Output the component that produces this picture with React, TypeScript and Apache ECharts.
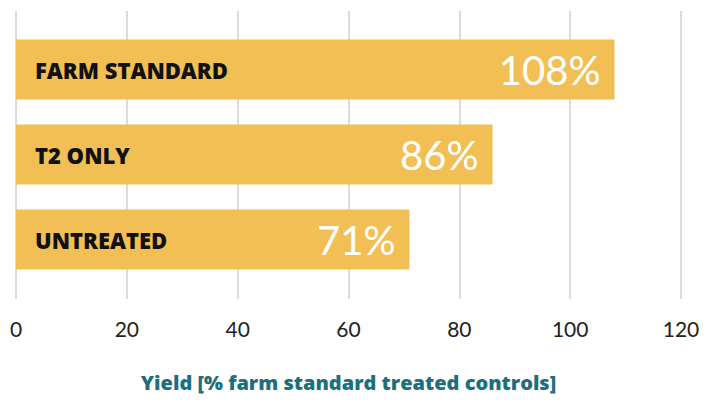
import React, { useEffect, useRef } from "react";
import * as echarts from "echarts";

const categories = ["FARM STANDARD", "T2 ONLY", "UNTREATED"];
const yieldValues = [108, 86, 71];
const valueLabels = ["108%", "86%", "71%"];
const xTicks = { min: 0, max: 120, interval: 20 };
const axisTitle = "Yield [% farm standard treated controls]";

const FONT = "Lato, 'Open Sans', sans-serif";
const BOLD_FONT = "'Open Sans', 'Noto Sans', sans-serif";
const GRID_COLOR = "#cfcfcf";

export default function App() {
  const ref = useRef<HTMLDivElement>(null);
  useEffect(() => {
    if (!ref.current) return;
    const chart = echarts.init(ref.current, undefined, { renderer: "svg" });
    chart.setOption({
      animation: false,
      backgroundColor: "#ffffff",
      grid: { left: 16, right: 34, top: 27, height: 255, containLabel: false },
      xAxis: [
        {
          type: "value",
          position: "bottom",
          min: xTicks.min,
          max: xTicks.max,
          interval: xTicks.interval,
          axisLine: { show: false },
          axisTick: { show: true, length: 17, lineStyle: { color: GRID_COLOR, width: 1.5 } },
          splitLine: { show: true, lineStyle: { color: GRID_COLOR, width: 1.5 } },
          axisLabel: { margin: 36, color: "#222222", fontSize: 21, fontFamily: FONT },
          name: axisTitle,
          nameLocation: "middle",
          nameGap: 90,
          nameTextStyle: { color: "#1d6f7e", fontSize: 20, fontWeight: 800, fontFamily: BOLD_FONT },
        },
        {
          type: "value",
          position: "top",
          min: xTicks.min,
          max: xTicks.max,
          interval: xTicks.interval,
          axisLine: { show: false },
          axisTick: { show: true, length: 16, lineStyle: { color: GRID_COLOR, width: 1.5 } },
          splitLine: { show: false },
          axisLabel: { show: false },
        },
      ],
      yAxis: {
        type: "category",
        data: categories,
        inverse: true,
        z: 10,
        axisLine: { show: false },
        axisTick: { show: false },
        axisLabel: {
          inside: true,
          margin: 19,
          color: "#111111",
          fontSize: 22,
          fontWeight: 800,
          fontFamily: BOLD_FONT,
        },
      },
      series: [
        {
          type: "bar",
          data: yieldValues,
          barWidth: 60,
          itemStyle: { color: "#f2bf55" },
          label: {
            show: true,
            position: "insideRight",
            distance: 14,
            color: "#ffffff",
            fontSize: 40,
            fontFamily: FONT,
            formatter: (p: any) => valueLabels[p.dataIndex],
          },
        },
      ],
    });
    return () => chart.dispose();
  }, []);
  return (
    <div
      ref={ref}
      style={{ position: "fixed", left: 0, top: 0, width: 715, height: 403 }}
    />
  );
}
